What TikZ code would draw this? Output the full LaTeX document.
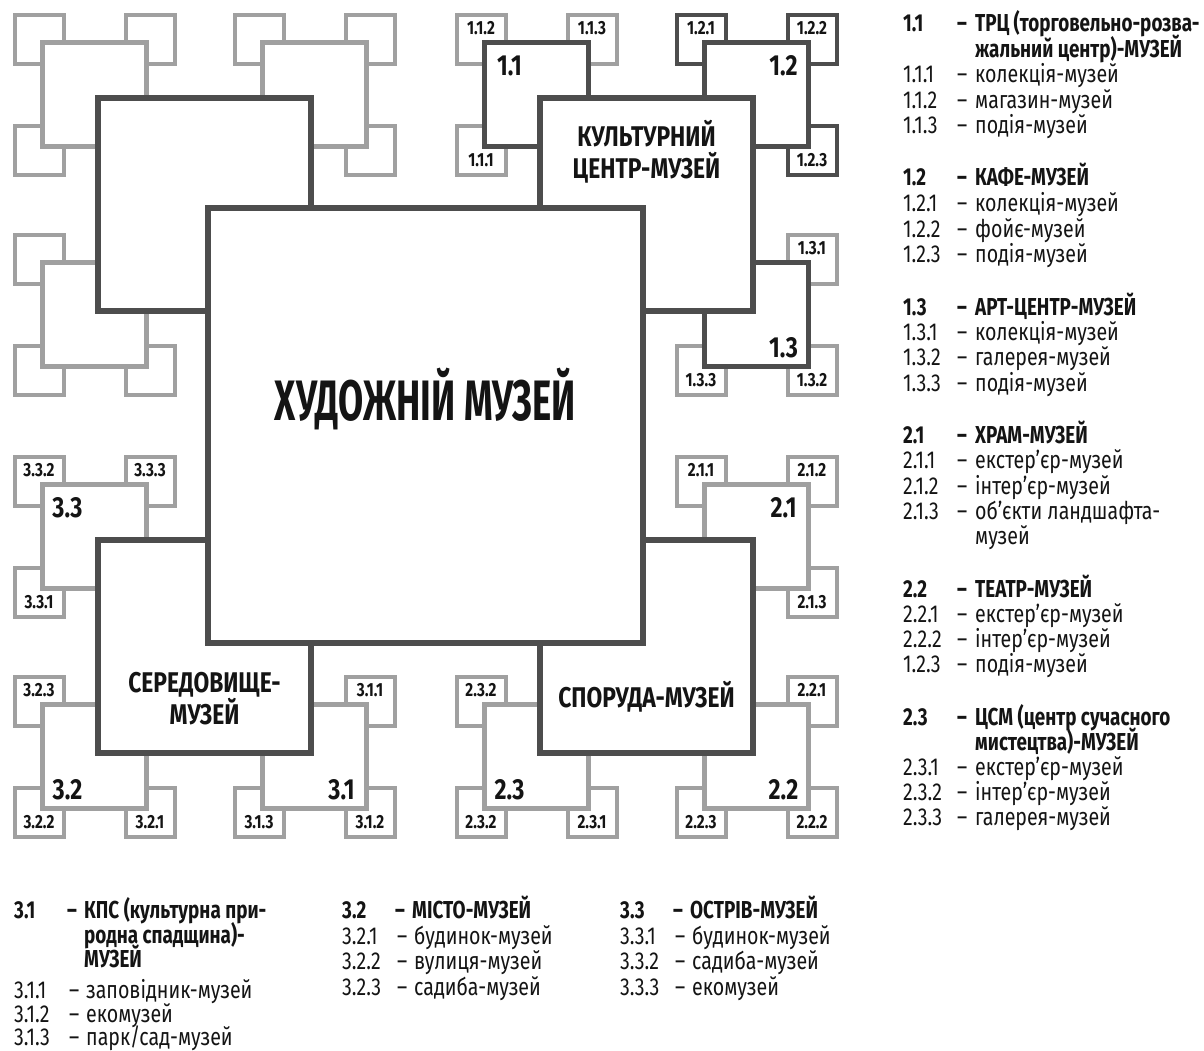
\documentclass[tikz,border=0pt]{standalone}
\usepackage{fontspec}
\setmainfont{Fira Sans}[FakeStretch=0.8]
\newfontfamily\narrowfont{Fira Sans}[FakeStretch=0.64]
\newfontfamily\headfont{Fira Sans}[FakeStretch=0.77]
\usetikzlibrary{positioning, calc}

\definecolor{DarkFrame}{RGB}{77,77,77}
\definecolor{LightFrame}{RGB}{160,160,160}
\definecolor{InkBlack}{RGB}{20,20,20}

\begin{document}
\begin{tikzpicture}[
  x=1pt, y=-1pt,
  every node/.style={text=InkBlack, inner sep=0pt},
  sqframe/.style={rectangle, fill=white, outer sep=0pt},
  darkframe/.style={sqframe, draw=DarkFrame},
  lightframe/.style={sqframe, draw=LightFrame},
  tinybox/.style={minimum size=49pt, line width=4pt},
  smallbox/.style={minimum size=104pt, line width=4.8pt},
  midbox/.style={darkframe, minimum size=213pt, line width=5.5pt},
  bigbox/.style={darkframe, minimum size=435pt, line width=5.5pt},
  tinylabel/.style={font=\bfseries\fontsize{19}{19}\selectfont},
  smalllabel/.style={font=\bfseries\fontsize{29}{29}\selectfont},
  midlabel/.style={font=\bfseries\fontsize{28.5}{32}\selectfont, align=center},
  titlelabel/.style={font=\narrowfont\bfseries\fontsize{57}{60}\selectfont, anchor=base},
  legnum/.style={anchor=base west, font=\fontsize{24.5}{24.5}\selectfont},
  leghead/.style={anchor=base west, font=\headfont\bfseries\fontsize{24.5}{24.5}\selectfont}
]
\fill[white] (0,0) rectangle (1204,1050);
\useasboundingbox (0,0) rectangle (1204,1050);

% outer corner squares, no labels
\foreach \cx/\cy [count=\i] in {39/39, 150/39, 39/150, 259/39, 370/39, 370/150,
                                 39/259, 39/370, 150/370}
  \node[lightframe, tinybox] (u\i) at (\cx,\cy) {};

% outer corner squares with numbers
\foreach \cx/\cy/\dy/\lbl/\tone [count=\i] in {
    481/39/-1/1.1.2/lightframe, 592/39/-1/1.1.3/lightframe, 481/150/1/1.1.1/lightframe,
    701/39/-1/1.2.1/darkframe, 812/39/-1/1.2.2/darkframe, 812/150/1/1.2.3/darkframe,
    812/259/-1/1.3.1/lightframe, 812/370/1/1.3.2/lightframe, 701/370/1/1.3.3/lightframe,
    701/481/-1/2.1.1/lightframe, 812/481/-1/2.1.2/lightframe, 812/592/1/2.1.3/lightframe,
    812/701/-1/2.2.1/lightframe, 812/812/1/2.2.2/lightframe, 701/812/1/2.2.3/lightframe,
    481/701/-1/2.3.2/lightframe, 481/812/1/2.3.2/lightframe, 592/812/1/2.3.1/lightframe,
    370/701/-1/3.1.1/lightframe, 370/812/1/3.1.2/lightframe, 259/812/1/3.1.3/lightframe,
    39/701/-1/3.2.3/lightframe, 39/812/1/3.2.2/lightframe, 150/812/1/3.2.1/lightframe,
    39/481/-1/3.3.2/lightframe, 150/481/-1/3.3.3/lightframe, 39/592/1/3.3.1/lightframe}
{
  \node[\tone, tinybox] (t\i) at (\cx,\cy) {};
  \node[tinylabel] (tl\i) at (\cx,{\cy+10.5*\dy}) {\lbl};
}

% second level
\foreach \cx/\cy/\tone/\nm in {
    94.5/94.5/lightframe/sa, 314.5/94.5/lightframe/sb, 94.5/314.5/lightframe/sc,
    536.5/94.5/darkframe/s11, 756.5/94.5/darkframe/s12, 756.5/314.5/darkframe/s13,
    756.5/536.5/lightframe/s21, 756.5/756.5/lightframe/s22, 536.5/756.5/lightframe/s23,
    314.5/756.5/lightframe/s31, 94.5/756.5/lightframe/s32, 94.5/536.5/lightframe/s33}
  \node[\tone, smallbox] (\nm) at (\cx,\cy) {};

% first level and centre
\node[midbox] (mtl) at (204.5,204.5) {};
\node[midbox] (mtr) at (646.5,204.5) {};
\node[midbox] (mbl) at (204.5,646.5) {};
\node[midbox] (mbr) at (646.5,646.5) {};
\node[bigbox] (museum) at (425.5,425.5) {};

\foreach \nm/\dx/\dy/\lbl in {s11/-27/-29/1.1, s12/27/-29/1.2, s13/27/33/1.3,
    s21/27/-29/2.1, s22/27/33/2.2, s23/-27/33/2.3,
    s31/27/33/3.1, s32/-27/33/3.2, s33/-27/-29/3.3}
  \node[smalllabel] (l\nm) at ([shift={(\dx,\dy)}]\nm.center) {\lbl};

\node[midlabel] (ctrtxt) at (646.5,152) {КУЛЬТУРНИЙ\\ЦЕНТР-МУЗЕЙ};
\node[midlabel] (envtxt) at (204.5,699) {СЕРЕДОВИЩЕ-\\МУЗЕЙ};
\node[midlabel] (bldtxt) at (646.5,697) {СПОРУДА-МУЗЕЙ};
\node[titlelabel] (title) at (425.5,420) {ХУДОЖНІЙ МУЗЕЙ};

% legend, right column
\foreach \yy/\num/\txt [count=\i] in {31/1.1/ТРЦ\,(торговельно-розва-,
    185/1.2/КАФЕ-МУЗЕЙ, 315/1.3/АРТ-ЦЕНТР-МУЗЕЙ, 443/2.1/ХРАМ-МУЗЕЙ,
    597/2.2/ТЕАТР-МУЗЕЙ, 725/2.3/ЦСМ (центр сучасного}
{
  \node[leghead] (hn\i) at (903,\yy) {\num};
  \node[leghead] (hd\i) at (957,\yy) {–};
  \node[leghead] (ht\i) at (975,\yy) {\txt};
}
\node[leghead] (hc1) at (975,57) {жальний центр)-МУЗЕЙ};
\node[leghead] (hc2) at (975,750) {мистецтва)-МУЗЕЙ};

\foreach \yy/\num/\txt [count=\i] in {82/1.1.1/колекція-музей,
    108/1.1.2/магазин-музей, 133/1.1.3/подія-музей,
    211/1.2.1/колекція-музей, 237/1.2.2/фойє-музей, 262/1.2.3/подія-музей,
    340/1.3.1/колекція-музей, 365/1.3.2/галерея-музей, 391/1.3.3/подія-музей,
    468/2.1.1/екстер’єр-музей, 494/2.1.2/інтер’єр-музей, 519/2.1.3/об’єкти ландшафта-,
    622/2.2.1/екстер’єр-музей, 647/2.2.2/інтер’єр-музей, 672/1.2.3/подія-музей,
    775/2.3.1/екстер’єр-музей, 800/2.3.2/інтер’єр-музей, 825/2.3.3/галерея-музей}
{
  \node[legnum] (rn\i) at (903,\yy) {\num};
  \node[legnum] (rd\i) at (957,\yy) {–};
  \node[legnum] (rt\i) at (975,\yy) {\txt};
}
\node[legnum] (rc1) at (975,544) {музей};

% legend, bottom row
\foreach \xx/\num/\txt [count=\i] in {14/3.1/КПС (культурна при-,
    342/3.2/МІСТО-МУЗЕЙ, 620/3.3/ОСТРІВ-МУЗЕЙ}
{
  \node[leghead] (bn\i) at (\xx,918) {\num};
  \node[leghead] (bd\i) at (\xx+53,918) {–};
  \node[leghead] (bt\i) at (\xx+70,918) {\txt};
}
\node[leghead] (bc1) at (84,943) {родна спадщина)-};
\node[leghead] (bc2) at (84,967) {МУЗЕЙ};

\foreach \xx/\yy/\num/\txt [count=\i] in {14/998/3.1.1/заповідник-музей,
    14/1022/3.1.2/екомузей,
    342/944/3.2.1/будинок-музей, 342/969/3.2.2/вулиця-музей, 342/995/3.2.3/садиба-музей,
    620/944/3.3.1/будинок-музей, 620/969/3.3.2/садиба-музей, 620/995/3.3.3/екомузей}
{
  \node[legnum] (bm\i) at (\xx,\yy) {\num};
  \node[legnum] (be\i) at (\xx+55,\yy) {–};
  \node[legnum] (bs\i) at (\xx+72,\yy) {\txt};
}
\node[legnum] (bm9) at (14,1045) {3.1.3};
\node[legnum] (be9) at (69,1045) {–};
\node[legnum] (bs9) at (86,1045) {парк/сад-музей};

\end{tikzpicture}
\end{document}
